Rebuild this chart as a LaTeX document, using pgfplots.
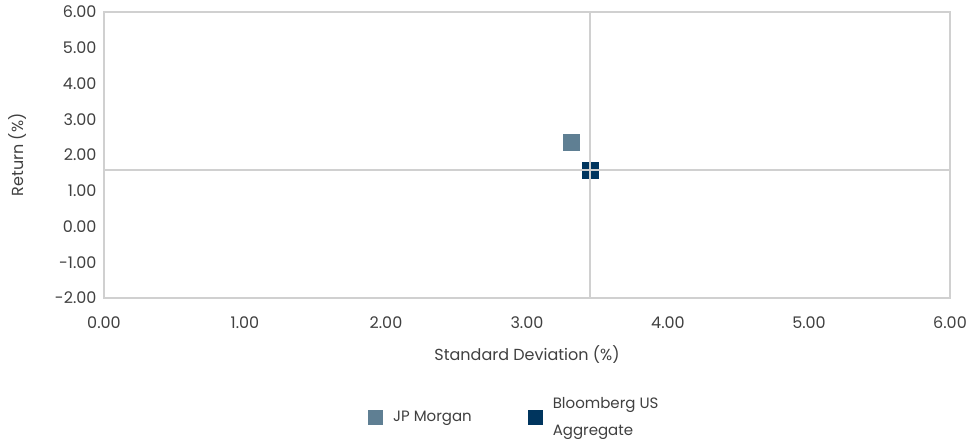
\documentclass[border=0pt]{standalone}
\usepackage{pgfplots}
\pgfplotsset{compat=1.18}
\usepackage{fontspec}
\setmainfont{Poppins}
\definecolor{jpm}{HTML}{5F7F93}
\definecolor{bbg}{HTML}{00355E}
\definecolor{axgray}{HTML}{D0D0D0}
\definecolor{txt}{HTML}{404040}
\begin{document}
\begin{tikzpicture}[x=1pt,y=1pt]
\useasboundingbox (0,0) rectangle (972,441);
\begin{axis}[
  at={(104pt,143pt)}, anchor=south west,
  scale only axis, width=846pt, height=286pt,
  xmin=0, xmax=6, ymin=-2, ymax=6,
  xtick={0,1,...,6}, ytick={-2,-1,...,6},
  major tick length=0pt,
  /pgf/number format/assume math mode=true,
  /pgf/number format/.cd, fixed, fixed zerofill, precision=2, /pgfplots/.cd,
  tick label style={font=\fontsize{16}{18}\selectfont, text=txt},
  xticklabel style={yshift=-15pt},
  yticklabel style={xshift=-4pt},
  axis line style={axgray, line width=1.4pt},
  xlabel={Standard Deviation (\%)}, ylabel={Return (\%)},
  label style={font=\fontsize{16}{18}\selectfont, text=txt},
  xlabel style={yshift=-10pt},
  ylabel style={yshift=22pt},
  legend style={draw=none, at={(0.485,-0.416)}, anchor=center,
    font=\fontsize{15}{27}\selectfont, text=txt,
    cells={align=left}, legend columns=2,
    /tikz/every odd column/.append style={column sep=9pt},
    /tikz/every even column/.append style={column sep=54pt}},
  legend image code/.code={\draw[mark repeat=2,mark phase=2,#1,mark size=7pt] plot coordinates {(0cm,0cm) (0.25cm,0cm) (0.5cm,0cm)};},
  clip=false,
]
\addplot[only marks, mark=square*, mark size=8pt, color=jpm] coordinates {(3.31,2.36)};
\addlegendentry{JP Morgan}
\addplot[only marks, mark=square*, mark size=8pt, color=bbg] coordinates {(3.45,1.58)};
\addlegendentry{Bloomberg US\\Aggregate}
\end{axis}
\begin{axis}[
  at={(104pt,143pt)}, anchor=south west,
  scale only axis, width=846pt, height=286pt,
  xmin=0, xmax=6, ymin=-2, ymax=6,
  hide axis, clip=false,
]
\addplot[axgray, line width=2pt] coordinates {(3.45,-2) (3.45,6)};
\addplot[axgray, line width=2pt] coordinates {(0,1.58) (6,1.58)};
\end{axis}
\end{tikzpicture}
\end{document}
